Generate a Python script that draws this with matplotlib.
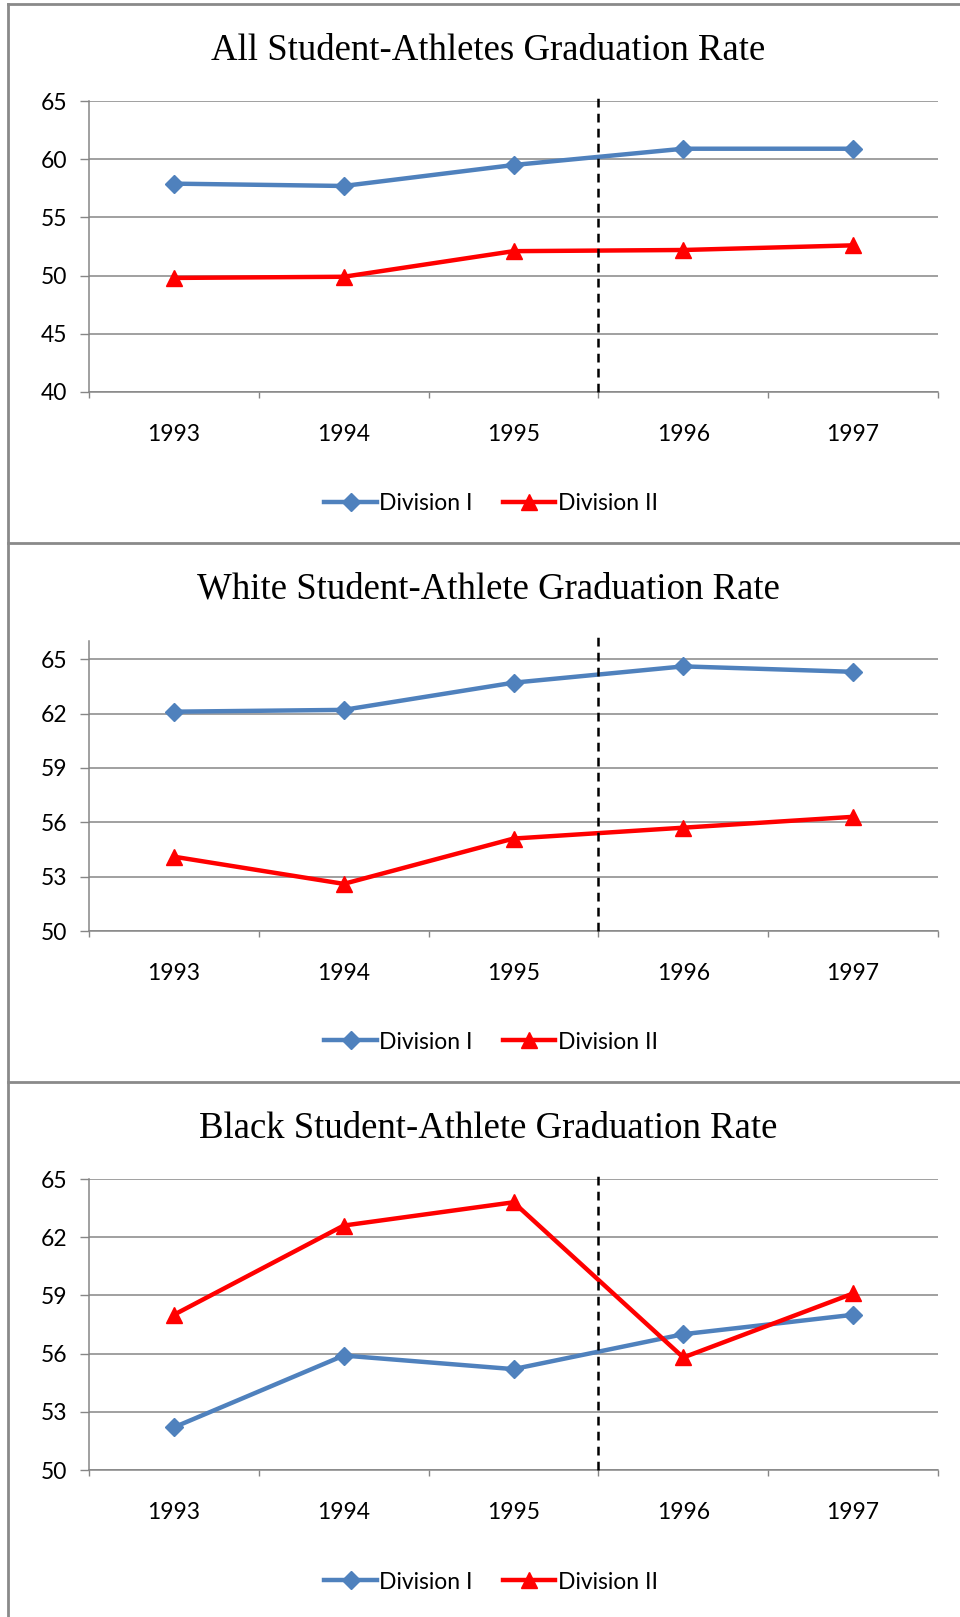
import matplotlib
matplotlib.use("Agg")
import matplotlib.pyplot as plt
from matplotlib.lines import Line2D

# Dados
anos = ["1993", "1994", "1995", "1996", "1997"]

todos_div1 = [57.9, 57.7, 59.5, 60.9, 60.9]
todos_div2 = [49.8, 49.9, 52.1, 52.2, 52.6]

brancos_div1 = [62.1, 62.2, 63.7, 64.6, 64.3]
brancos_div2 = [54.1, 52.6, 55.1, 55.7, 56.3]

negros_div1 = [52.2, 55.9, 55.2, 57.0, 58.0]
negros_div2 = [58.0, 62.6, 63.8, 55.8, 59.1]

titulos = ["All Student-Athletes Graduation Rate",
           "White Student-Athlete Graduation Rate",
           "Black Student-Athlete Graduation Rate"]

W, H = 960, 1617
CINZA = "#868686"
AZUL = "#4F81BD"
VERMELHO = "#FF0000"


def rect(l, t, r, b):
    return [l / W, 1 - b / H, (r - l) / W, (b - t) / H]


fig = plt.figure(figsize=(W / 100, H / 100), dpi=100)
fig.patch.set_facecolor("white")

paineis = [
    (todos_div1, todos_div2, (89, 101, 938, 392), (40, 65), list(range(40, 66, 5)), 51, 504),
    (brancos_div1, brancos_div2, (89, 641, 938, 931), (50, 66), list(range(50, 66, 3)), 589, 1042),
    (negros_div1, negros_div2, (89, 1179, 938, 1470), (50, 65), list(range(50, 66, 3)), 1129, 1582),
]

for i, (d1, d2, caixa, lim, yticks, y_tit, y_leg) in enumerate(paineis):
    ax = fig.add_axes(rect(*caixa))
    x = range(len(anos))
    ax.plot(x, d1, color=AZUL, lw=3.2, marker="D", ms=9.5, label="Division I", zorder=3)
    ax.plot(x, d2, color=VERMELHO, lw=3.2, marker="^", ms=11.5, label="Division II", zorder=3)
    ax.axvline(2.5, ymin=0.0, ymax=1.02, color="black", lw=1.8,
               linestyle=(0, (3.5, 2.5)), clip_on=False, zorder=4)

    ax.set_xlim(-0.5, 4.5)
    ax.set_ylim(*lim)
    ax.set_yticks(yticks)
    ax.set_xticks(list(x))
    ax.set_xticklabels(anos)
    ax.set_xticks([k - 0.5 for k in range(len(anos) + 1)], minor=True)
    ax.yaxis.grid(True, color=CINZA, lw=1.1)
    ax.set_axisbelow(True)

    for lado in ["top", "right"]:
        ax.spines[lado].set_visible(False)
    for lado in ["left", "bottom"]:
        ax.spines[lado].set_color(CINZA)
        ax.spines[lado].set_linewidth(1.1)

    ax.tick_params(axis="y", direction="out", length=6.5, width=1, color=CINZA,
                   pad=9, labelsize=16.5)
    ax.tick_params(axis="x", which="major", length=0, pad=23, labelsize=16.5)
    ax.tick_params(axis="x", which="minor", direction="out", length=4.5, width=1, color=CINZA)
    for lab in ax.get_xticklabels() + ax.get_yticklabels():
        lab.set_fontfamily("Lato")

    fig.text(488 / W, 1 - y_tit / H, titulos[i], ha="center", va="center",
             fontsize=26.5, family="Liberation Serif")

    ax.legend(loc="center", bbox_to_anchor=(491 / W, 1 - y_leg / H),
              bbox_transform=fig.transFigure, ncol=2, frameon=False,
              handlelength=2.3, handletextpad=0.1, columnspacing=1.3,
              prop={"family": "Lato", "size": 16.5})

# bordas dos painéis
for yb in [4, 543, 1082]:
    fig.add_artist(Line2D([8 / W, 1], [1 - yb / H, 1 - yb / H], color="#8a8a8a", lw=2))
fig.add_artist(Line2D([8 / W, 8 / W], [0, 1 - 4 / H], color="#8a8a8a", lw=2))

fig.savefig("out.png", dpi=100)
